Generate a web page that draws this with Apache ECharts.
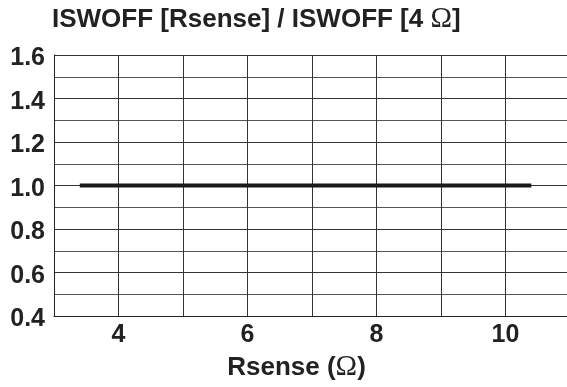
<!DOCTYPE html>
<html>
<head>
<meta charset="utf-8">
<script src="https://cdn.jsdelivr.net/npm/echarts@6/dist/echarts.min.js"></script>
<style>
html, body { margin: 0; padding: 0; background: #fff; }
#chart { width: 567px; height: 387px; }
</style>
</head>
<body>
<div id="chart"></div>
<script>
// Rsense sweep (Ω) and normalised ISWOFF ratio
const rsense = [3.4, 10.4];
const ratio = [1.0, 1.0];
const xLabels = [4, 6, 8, 10];
const yTicks = [0.4, 0.6, 0.8, 1.0, 1.2, 1.4, 1.6];

const chart = echarts.init(document.getElementById('chart'));
const font = 'Liberation Sans, Arial, sans-serif';
const serif = 'Liberation Serif, serif';

const option = {
    animation: false,
    title: {
        text: '{b|ISWOFF [Rsense] / ISWOFF [4 }{o|Ω}{b|]}',
        left: 52,
        top: 5,
        padding: 0,
        textStyle: {
            rich: {
                b: { fontFamily: font, fontWeight: 'bold', fontSize: 26, color: '#222' },
                o: { fontFamily: serif, fontWeight: 'normal', fontSize: 29, color: '#222' }
            }
        }
    },
    grid: {
        left: 54,
        top: 55,
        right: -3,
        bottom: 71,
        containLabel: false,
        outerBoundsMode: 'none'
    },
    xAxis: {
        type: 'value',
        min: 3,
        max: 11,
        interval: 1,
        axisLine: { show: true, lineStyle: { color: '#222', width: 1 } },
        axisTick: { show: false },
        splitLine: { show: true, lineStyle: { color: '#333', width: 1 } },
        axisLabel: {
            margin: 7,
            fontFamily: font,
            fontWeight: 'bold',
            fontSize: 25,
            color: '#222',
            formatter: v => xLabels.indexOf(v) >= 0 ? String(v) : ''
        },
        name: '{b|Rsense (}{o|Ω}{b|)}',
        nameLocation: 'middle',
        nameGap: 34,
        nameTextStyle: {
            padding: [0, 31, 0, 0],
            rich: {
                b: { fontFamily: font, fontWeight: 'bold', fontSize: 26, color: '#222' },
                o: { fontFamily: serif, fontWeight: 'normal', fontSize: 29, color: '#222' }
            }
        }
    },
    yAxis: {
        type: 'value',
        min: yTicks[0],
        max: yTicks[yTicks.length - 1],
        interval: 0.2,
        axisLine: { show: true, lineStyle: { color: '#222', width: 1 } },
        axisTick: { show: false },
        minorTick: { show: false, splitNumber: 2 },
        splitLine: { show: true, lineStyle: { color: '#333', width: 1 } },
        minorSplitLine: { show: true, lineStyle: { color: '#555', width: 1 } },
        axisLabel: {
            margin: 9,
            formatter: v => '{t|' + v.toFixed(1) + '}',
            rich: {
                t: {
                    fontFamily: font,
                    fontWeight: 'bold',
                    fontSize: 25,
                    color: '#222',
                    padding: [7, 0, 0, 0]
                }
            }
        }
    },
    series: [{
        type: 'line',
        data: rsense.map((x, i) => [x, ratio[i]]),
        showSymbol: false,
        lineStyle: { color: '#1a1a1a', width: 4 },
        silent: true
    }]
};
chart.setOption(option);
window.addEventListener('resize', () => chart.resize());
</script>
</body>
</html>
